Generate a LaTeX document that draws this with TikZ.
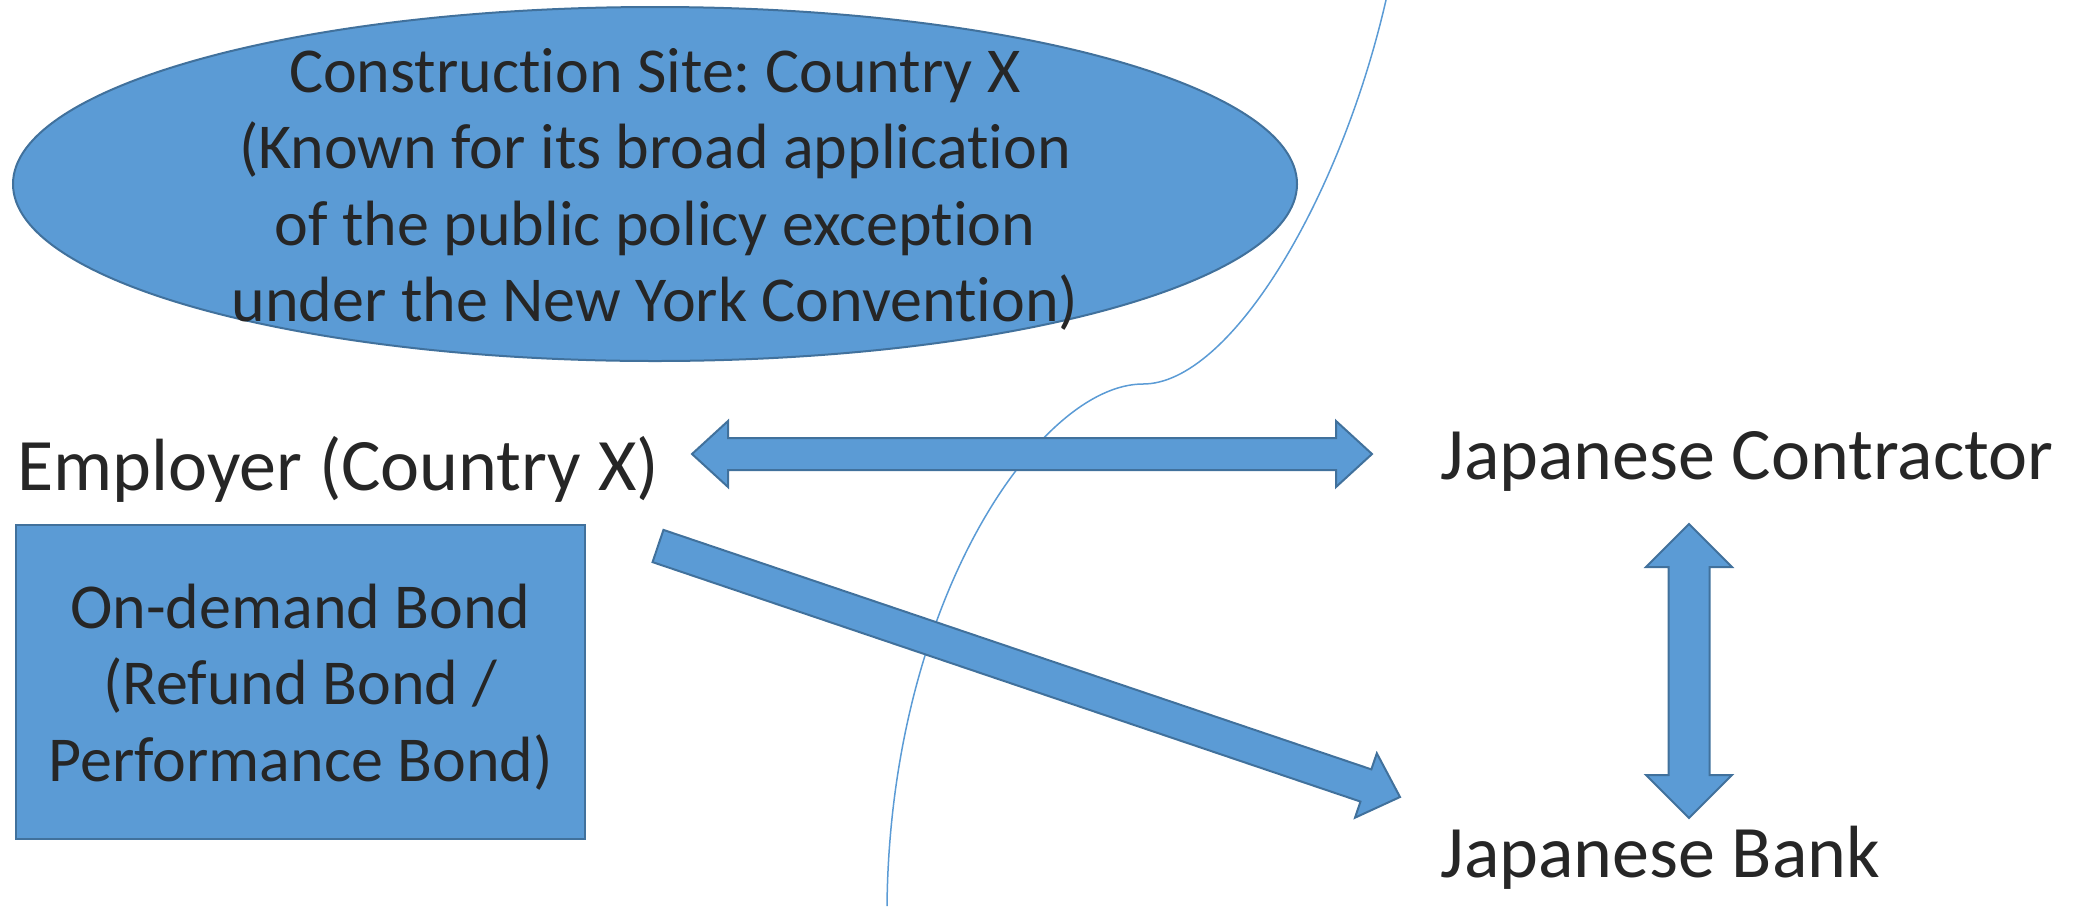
\documentclass[tikz,border=0pt]{standalone}
\usepackage{fontspec}
\setmainfont{Carlito}[Ligatures=NoCommon]
\usepackage{xcolor}
\usetikzlibrary{calc,shapes.geometric}

\definecolor{bondblue}{HTML}{5B9BD5}
\definecolor{bondedge}{HTML}{41719C}
\definecolor{inkgray}{HTML}{262626}

% block arrow with a head at both ends: from, to, head length, head half width, shaft half width
\newcommand{\dblarrow}[5]{%
	\draw[blk] (#1)
		-- ($(#1)!#3!(#2)!#4!90:(#2)$) -- ($(#1)!#3!(#2)!#5!90:(#2)$)
		-- ($(#2)!#3!(#1)!#5!-90:(#1)$) -- ($(#2)!#3!(#1)!#4!-90:(#1)$)
		-- (#2)
		-- ($(#2)!#3!(#1)!#4!90:(#1)$) -- ($(#2)!#3!(#1)!#5!90:(#1)$)
		-- ($(#1)!#3!(#2)!#5!-90:(#2)$) -- ($(#1)!#3!(#2)!#4!-90:(#2)$)
		-- cycle;}
% block arrow with one head: tail, tip, head length, head half width, shaft half width
\newcommand{\onearrow}[5]{%
	\draw[blk] ($(#1)!#5!90:(#2)$)
		-- ($(#2)!#3!(#1)!#5!-90:(#1)$) -- ($(#2)!#3!(#1)!#4!-90:(#1)$)
		-- (#2)
		-- ($(#2)!#3!(#1)!#4!90:(#1)$) -- ($(#2)!#3!(#1)!#5!90:(#1)$)
		-- ($(#1)!#5!-90:(#2)$)
		-- cycle;}

\begin{document}
\frenchspacing
\begin{tikzpicture}[x=0.5pt,y=-0.5pt,
	blk/.style={fill=bondblue, draw=bondedge, line width=1pt, line join=miter},
	lbl/.style={text=inkgray, font=\fontsize{37}{44}\selectfont, inner sep=0pt},
	body/.style={text=inkgray, font=\fontsize{32}{38.3}\selectfont, align=center, inner sep=0pt}]
	\useasboundingbox (0,0) rectangle (2075,906);

	% border between the two countries
	\draw[bondblue, line width=0.75pt] (1386,0) .. controls (1340,200) and (1230,384) .. (1143,384)
		.. controls (1040,384) and (890,600) .. (887,906);

	\node[blk, ellipse, minimum width=642pt, minimum height=177pt] (site) at (655,184) {};
	\node[body] (sitetext) at ([yshift=-2.7pt]site.center) {Construction Site: Country X\\(Known for its broad application\\of the public policy exception\\under the New York Convention)};

	\node[lbl, anchor=base west] (emp) at (17,490) {Employer (Country X)};
	\node[lbl, anchor=base west] (jc) at (1440,479) {Japanese Contractor};
	\node[lbl, anchor=base west] (jb) at (1440,877) {Japanese Bank};

	\node[blk, minimum width=284.5pt, minimum height=157pt] (bond) at (300.5,682) {};
	\node[body] (bondtext) at ([yshift=-2.6pt]bond.center) {On-demand Bond\\(Refund Bond /\\Performance Bond)};

	\coordinate (hl) at (692,454);
	\coordinate (hr) at (1372,454);
	\coordinate (vt) at (1689,524);
	\coordinate (vb) at (1689,818);
	\coordinate (dt) at (658,546);
	\coordinate (dh) at (1400,797);

	\dblarrow{hl}{hr}{18pt}{16.5pt}{8pt}
	\dblarrow{vt}{vb}{21.5pt}{21.5pt}{10.25pt}
	\onearrow{dt}{dh}{18pt}{17pt}{8.5pt}
\end{tikzpicture}
\end{document}
